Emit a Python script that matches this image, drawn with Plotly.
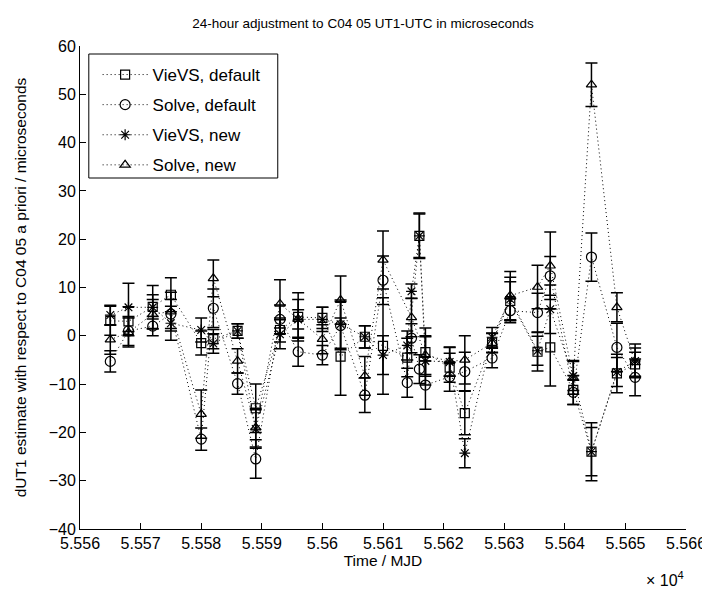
import plotly.graph_objects as go

# ---- data ----
vievs_def_mjd = [55565, 55568, 55572, 55575, 55580, 55582, 55586, 55589, 55593, 55596, 55600, 55603, 55607, 55610,
                 55614, 55616, 55617, 55621, 55623.5, 55628, 55631, 55635.5, 55637.6, 55641.4, 55644.4, 55648.6, 55651.6]
vievs_def_val = [3.1, 3.0, 6.0, 8.5, -1.5, -0.7, 1.0, -15.0, 1.2, 3.9, 3.7, -4.3, -0.2, -2.1,
                 -4.5, 20.7, -3.4, -6.6, -16.0, -1.4, 7.2, -3.3, -2.4, -11.2, -24.0, -7.8, -5.9]
vievs_def_err = [3, 3, 2.5, 3.5, 2.5, 2, 1.5, 5, 2.5, 5, 2.2, 8, 2.3, 10,
                 4, 4.7, 5, 3, 4.5, 2, 4, 4, 8, 3, 6, 4, 2.5]

solve_def_mjd = [55565, 55568, 55572, 55575, 55580, 55582, 55586, 55589, 55593, 55596, 55600, 55603, 55607, 55610,
                 55614, 55614.7, 55616, 55617, 55621, 55623.5, 55628, 55631, 55635.5, 55637.6, 55641.4, 55644.4, 55648.6, 55651.6]
solve_def_val = [-5.3, 1.0, 2.0, 4.5, -21.4, 5.7, -9.9, -25.5, 3.4, -3.3, -4.0, 2.1, -12.3, 11.5,
                 -9.7, -0.5, -6.9, -10.2, -8.5, -7.4, -4.6, 5.2, 4.8, 12.4, -11.7, 16.3, -2.4, -8.6]
solve_def_err = [2.2, 3, 2, 3, 2.3, 4, 2.2, 4, 3, 3, 2, 5, 3.6, 5,
                 3, 3, 3, 5, 3, 4, 2, 2.5, 4, 4, 2.5, 5, 5, 3.8]

vievs_new_mjd = [55565, 55568, 55572, 55575, 55580, 55582, 55586, 55589, 55593, 55596, 55600, 55603, 55607, 55610,
                 55614, 55614.7, 55616, 55617, 55621, 55623.5, 55628, 55631, 55635.5, 55637.6, 55641.4, 55644.4, 55648.6, 55651.6]
vievs_new_val = [4.3, 5.9, 5.9, 2.6, 1.2, -1.6, 1.0, -19.3, 0.3, 3.4, 3.4, 2.4, -0.2, -4.0,
                 -2.0, 9.2, 20.7, -5.2, -5.4, -24.3, -0.3, 7.6, -3.1, 5.5, -8.3, -24.0, -7.5, -5.2]
vievs_new_err = [2, 5, 4.5, 3.5, 2.5, 2, 1.5, 4, 3, 2, 2.5, 5, 2.3, 4,
                 3, 1.5, 4.5, 5, 3, 3, 2, 4.5, 3, 5, 3, 5, 3, 3.5]

solve_new_mjd = [55565, 55568, 55572, 55575, 55580, 55582, 55586, 55589, 55593, 55596, 55600, 55603, 55607, 55610,
                 55614.7, 55617, 55621, 55623.5, 55628, 55631, 55635.5, 55637.6, 55641.4, 55644.4, 55648.6, 55651.6]
solve_new_val = [-0.8, 0.7, 4.5, 5.0, -16.2, 11.9, -5.2, -19.0, 6.6, 3.5, -0.7, 7.4, -8.3, 15.7,
                 3.8, -4.0, -5.3, -5.0, -1.5, 8.3, 10.1, 14.5, -8.6, 52.0, 5.9, -5.5]
solve_new_err = [3, 3, 3, 4, 5, 3.8, 2.5, 4, 5, 4, 3, 5, 4, 6,
                 4, 4, 3, 5, 2, 5, 4.5, 7, 3.5, 4.5, 3, 3]

x_tickvals = [55560, 55570, 55580, 55590, 55600, 55610, 55620, 55630, 55640, 55650, 55660]
x_ticktext = ["5.556", "5.557", "5.558", "5.559", "5.56", "5.561", "5.562", "5.563", "5.564", "5.565", "5.566"]
y_tickvals = [-40, -30, -20, -10, 0, 10, 20, 30, 40, 50, 60]

FONT = "Liberation Sans, Arial, sans-serif"

series = [
    ("VieVS, default", vievs_def_mjd, vievs_def_val, vievs_def_err, "square-open", 9),
    ("Solve, default", solve_def_mjd, solve_def_val, solve_def_err, "circle-open", 10),
    ("VieVS, new", vievs_new_mjd, vievs_new_val, vievs_new_err, "asterisk-open", 9),
    ("Solve, new", solve_new_mjd, solve_new_val, solve_new_err, "triangle-up-open", 9),
]

fig = go.Figure()
for i, (name, xs, ys, es, sym, sz) in enumerate(series):
    fig.add_trace(go.Scatter(
        x=xs, y=ys, name=name, mode="lines+markers",
        legendgroup=f"g{i}",
        line=dict(color="black", width=1, dash="1px,3px"),
        marker=dict(symbol=sym, size=sz, color="black", line=dict(color="black", width=1.2)),
        error_y=dict(type="data", array=es, visible=True, color="black", thickness=1.5, width=6),
    ))

# plot area in pixels: x 70..689, y 38..521
PL, PR, PT, PB = 70, 689, 38, 521
def px_x(p):
    return (p - PL) / (PR - PL)
def px_y(p):
    return (PB - p) / (PB - PT)

fig.update_layout(
    width=710, height=592,
    margin=dict(l=PL, r=710 - PR, t=PT, b=592 - PB),
    paper_bgcolor="white", plot_bgcolor="white",
    font=dict(family=FONT, size=15, color="black"),
    title=dict(text="24-hour adjustment to C04 05 UT1-UTC in microseconds",
               x=0.5, xanchor="center", y=0.975, yanchor="middle",
               font=dict(family=FONT, size=13.5, color="black")),
    showlegend=True,
    legend=dict(x=px_x(88), y=px_y(49), xanchor="left", yanchor="top",
                bgcolor="rgba(0,0,0,0)", borderwidth=0,
                font=dict(family=FONT, size=17, color="black"),
                itemwidth=45,
                tracegroupgap=5, traceorder="grouped"),
    xaxis=dict(range=[55560, 55660], tickmode="array", tickvals=x_tickvals, ticktext=x_ticktext,
               ticks="inside", ticklen=6, tickcolor="black", showline=True, linecolor="black", linewidth=1,
               showgrid=False, zeroline=False, mirror=False,
               title=dict(text="Time / MJD", standoff=3, font=dict(family=FONT, size=15.5)),
               tickfont=dict(family=FONT, size=16)),
    yaxis=dict(range=[-40, 60], tickmode="array", tickvals=y_tickvals,
               ticks="inside", ticklen=6, tickcolor="black", showline=True, linecolor="black", linewidth=1,
               showgrid=False, zeroline=False, mirror=False,
               title=dict(text="dUT1 estimate with respect to C04 05 a priori / microseconds", standoff=18,
                          font=dict(family=FONT, size=15.5)),
               tickfont=dict(family=FONT, size=16)),
)

# legend frame
fig.add_shape(type="rect", xref="paper", yref="paper",
              x0=px_x(79), x1=px_x(272), y0=px_y(170), y1=px_y(46),
              line=dict(color="black", width=1), fillcolor="white", layer="below")

fig.add_annotation(x=1.0, y=0, xref="paper", yref="paper", xanchor="right", yanchor="bottom",
                   xshift=0, yshift=-62, text="× 10<sup>4</sup>", showarrow=False,
                   font=dict(family=FONT, size=16, color="black"))

fig.write_html("out.html")
